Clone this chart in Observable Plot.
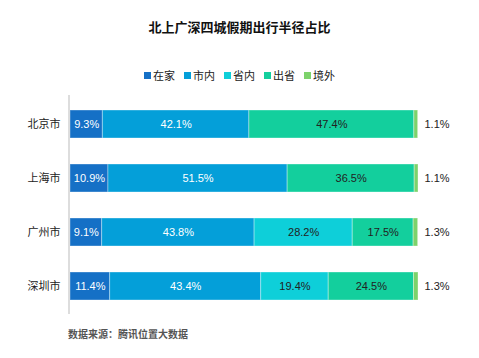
<!DOCTYPE html>
<html><head><meta charset="utf-8">
<script src="https://cdn.jsdelivr.net/npm/d3@7"></script>
<script src="https://cdn.jsdelivr.net/npm/@observablehq/plot@0.6"></script>
<style>
body{margin:0;background:#fff;font-family:"Liberation Sans","Noto Sans CJK SC",sans-serif;}
#wrap{width:479px;height:358px;position:relative;overflow:hidden;}
#title{height:56px;line-height:56px;text-align:center;font-weight:bold;font-size:13px;color:#111;padding-left:0;}
#legend{height:38px;display:flex;justify-content:center;align-items:center;font-size:11px;color:#222;gap:9px;}
#legend .it{display:flex;align-items:center;gap:2px;}
#legend .sw{width:7px;height:7px;display:inline-block;}
#cap{height:34px;line-height:34px;padding-left:68px;font-size:10px;font-weight:bold;color:#555;}
svg{display:block;}
</style></head>
<body><div id="wrap"><div id="title">北上广深四城假期出行半径占比</div><div id="legend"></div><div id="chart"></div><div id="cap">数据来源：腾讯位置大数据</div></div>
<script>
const cities = ["北京市","上海市","广州市","深圳市"];
const types = ["在家","市内","省内","出省","境外"];
const zaijia = [9.3,10.9,9.1,11.4];
const shinei = [42.1,51.5,43.8,43.4];
const shengnei = [0,0,28.2,19.4];
const chusheng = [47.4,36.5,17.5,24.5];
const jingwai = [1.1,1.1,1.3,1.3];
const colors = ["#1570C6","#049FD9","#0ECFD9","#13CF9D","#7DD26B"];

const series = [zaijia, shinei, shengnei, chusheng, jingwai];
const data = [];
cities.forEach((c,i)=>types.forEach((t,j)=>data.push({city:c,type:t,value:series[j][i]})));

const leg = document.getElementById("legend");
types.forEach((t,j)=>{
  const d=document.createElement("span");d.className="it";
  d.innerHTML=`<span class="sw" style="background:${colors[j]}"></span><span>${t}</span>`;
  leg.appendChild(d);
});

const inner = data.filter(d=>d.type!=="境外");
const outer = data.filter(d=>d.type==="境外");
const plot = Plot.plot({
  width:479, height:224,
  marginLeft:70, marginRight:61, marginTop:1, marginBottom:4,
  style:{fontFamily:'"Liberation Sans","Noto Sans CJK SC",sans-serif', fontSize:"11px", color:"#222"},
  x:{domain:[0,100], axis:null},
  y:{domain:cities, paddingInner:0.49, paddingOuter:0.245, label:null, tickSize:0, tickPadding:10},
  color:{domain:types, range:colors},
  marks:[
    Plot.barX(data, Plot.stackX({x:"value", y:"city", fill:"type", z:"type", order:types, stroke:"white", strokeOpacity:0.35, strokeWidth:1})),
    Plot.text(inner, Plot.stackX({x:"value", y:"city", z:"type", order:types,
      text:d=>d.value>0?d.value.toFixed(1)+"%":"",
      fill:d=>(d.type==="在家"||d.type==="市内")?"white":"#222", fontSize:11})),
    Plot.text(outer, {x:100, y:"city", text:d=>d.value.toFixed(1)+"%", textAnchor:"start", dx:6, fill:"#222", fontSize:11}),
    Plot.ruleX([0], {stroke:"#ddd", strokeWidth:2, dx:-1.5}),
    Plot.axisY({tickSize:0, tickPadding:10, fontSize:11, label:null})
  ]
});
document.getElementById("chart").appendChild(plot);
</script></body></html>
